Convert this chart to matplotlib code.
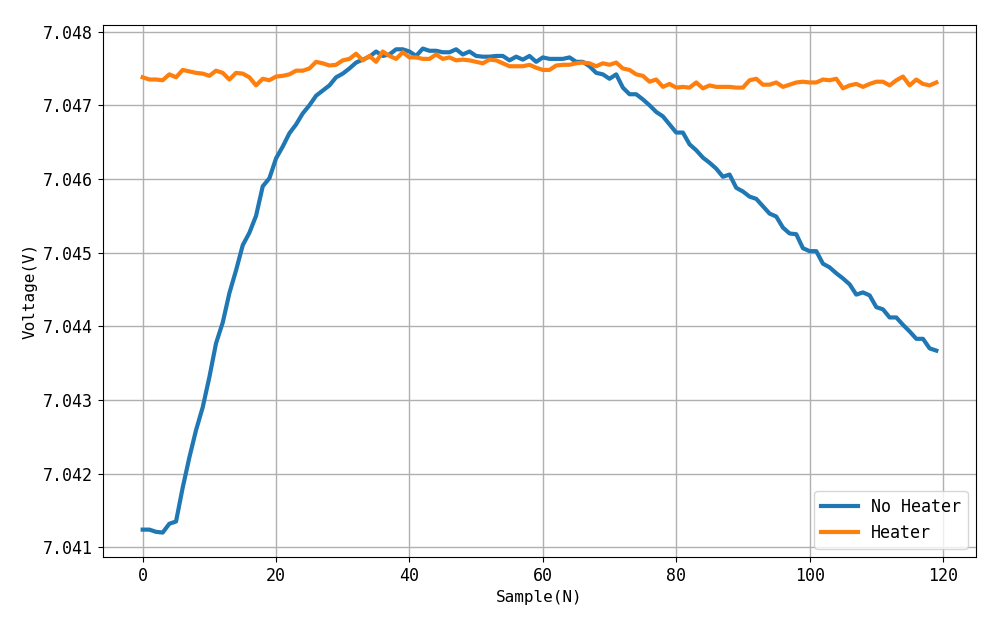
import matplotlib
matplotlib.use("Agg")
import matplotlib.pyplot as plt
from matplotlib.ticker import FormatStrFormatter

samples = list(range(120))

no_heater = [
    7.04124, 7.04124, 7.04121, 7.04120, 7.04132, 7.04135, 7.04181, 7.04222, 7.04259, 7.04290,
    7.04331, 7.04377, 7.04405, 7.04445, 7.04476, 7.04510, 7.04527, 7.04550, 7.04590, 7.04601,
    7.04628, 7.04644, 7.04662, 7.04674, 7.04689, 7.04700, 7.04713, 7.04720, 7.04727, 7.04738,
    7.04743, 7.04750, 7.04758, 7.04762, 7.04766, 7.04773, 7.04767, 7.04769, 7.04776, 7.04776,
    7.04773, 7.04767, 7.04777, 7.04774, 7.04774, 7.04772, 7.04772, 7.04776, 7.04769, 7.04773,
    7.04767, 7.04766, 7.04766, 7.04767, 7.04767, 7.04761, 7.04766, 7.04762, 7.04767, 7.04759,
    7.04765, 7.04763, 7.04763, 7.04763, 7.04765, 7.04759, 7.04759, 7.04753, 7.04744, 7.04742,
    7.04736, 7.04742, 7.04724, 7.04715, 7.04715, 7.04708, 7.04700, 7.04691, 7.04685, 7.04674,
    7.04663, 7.04663, 7.04647, 7.04639, 7.04629, 7.04622, 7.04614, 7.04603, 7.04606, 7.04588,
    7.04583, 7.04576, 7.04573, 7.04563, 7.04553, 7.04549, 7.04534, 7.04526, 7.04525, 7.04506,
    7.04502, 7.04502, 7.04485, 7.04480, 7.04472, 7.04465, 7.04457, 7.04443, 7.04446, 7.04442,
    7.04426, 7.04423, 7.04412, 7.04412, 7.04402, 7.04393, 7.04383, 7.04383, 7.04370, 7.04367,
]

heater = [
    7.04738, 7.04735, 7.04735, 7.04734, 7.04742, 7.04738, 7.04748, 7.04746, 7.04744, 7.04743,
    7.04740, 7.04747, 7.04744, 7.04735, 7.04744, 7.04743, 7.04738, 7.04727, 7.04736, 7.04734,
    7.04739, 7.04740, 7.04742, 7.04747, 7.04747, 7.04750, 7.04759, 7.04757, 7.04754, 7.04755,
    7.04761, 7.04763, 7.04770, 7.04761, 7.04767, 7.04759, 7.04773, 7.04767, 7.04763, 7.04772,
    7.04765, 7.04765, 7.04763, 7.04763, 7.04769, 7.04763, 7.04765, 7.04761, 7.04762, 7.04761,
    7.04759, 7.04757, 7.04762, 7.04761, 7.04757, 7.04753, 7.04753, 7.04753, 7.04755, 7.04751,
    7.04748, 7.04748, 7.04754, 7.04755, 7.04755, 7.04757, 7.04758, 7.04757, 7.04753, 7.04757,
    7.04755, 7.04758, 7.04750, 7.04748, 7.04742, 7.04740, 7.04732, 7.04735, 7.04725, 7.04729,
    7.04724, 7.04725, 7.04724, 7.04731, 7.04723, 7.04727, 7.04725, 7.04725, 7.04725, 7.04724,
    7.04724, 7.04734, 7.04736, 7.04728, 7.04728, 7.04731, 7.04725, 7.04728, 7.04731, 7.04732,
    7.04731, 7.04731, 7.04735, 7.04734, 7.04736, 7.04723, 7.04727, 7.04729, 7.04725, 7.04729,
    7.04732, 7.04732, 7.04727, 7.04734, 7.04739, 7.04727, 7.04735, 7.04729, 7.04727, 7.04731,
]

series_labels = ["No Heater", "Heater"]
x_label = "Sample(N)"
y_label = "Voltage(V)"
x_ticks = [0, 20, 40, 60, 80, 100, 120]
y_ticks = [7.041, 7.042, 7.043, 7.044, 7.045, 7.046, 7.047, 7.048]

plt.rcParams['font.family'] = ['DejaVu Sans Mono', 'DejaVu Sans']

fig = plt.figure(figsize=(10, 6.25), dpi=100)
ax = fig.add_axes([0.103, 0.109, 0.873, 0.851])

ax.plot(samples, no_heater, color='#1f77b4', linewidth=3, label=series_labels[0])
ax.plot(samples, heater, color='#ff7f0e', linewidth=3, label=series_labels[1])

ax.set_xticks(x_ticks)
ax.set_yticks(y_ticks)
ax.yaxis.set_major_formatter(FormatStrFormatter('%.3f'))
ax.set_ylim(7.04087, 7.04809)
ax.set_xlim(-5.95, 124.95)
ax.tick_params(labelsize=12)
ax.grid(True, color='#b0b0b0', linewidth=1)
ax.set_axisbelow(True)
ax.set_xlabel(x_label, fontsize=11.5)
ax.set_ylabel(y_label, fontsize=11.5)
ax.legend(loc='lower right', fontsize=12, handlelength=2.2)

fig.savefig("out.png", dpi=100)
